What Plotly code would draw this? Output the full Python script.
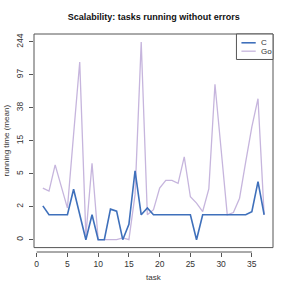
import numpy as np
import plotly.graph_objects as go

tasks = list(range(1, 38))
c_values = [1.56, 1, 1, 1, 1, 3.07, 1, 0, 1, 0, 0, 1.34, 1.21, 0, 0.53, 5.8, 1, 1.42,
            1, 1, 1, 1, 1, 1, 1, 0, 1, 1, 1, 1, 1, 1, 1, 1, 1.18, 4.03, 1]
go_values = [3.2, 2.86, 7.0, 3.5, 1.41, 17.7, 139, 0.12, 7.4, 0, 0, 0, 0, 0.05, 0, 2.5, 244,
             1, 1.3, 3.2, 4.2, 4.2, 3.8, 9.0, 2.3, 1.77, 1.19, 3.1, 74.5, 11.3, 1, 1.13,
             2.17, 7.7, 22, 49.5, 1]
series_names = ["C", "Go"]
x_ticks = [0, 5, 10, 15, 20, 25, 30, 35]
y_tick_labels = ["0", "2", "5", "15", "38", "97", "244"]

colors = {"C": "#3f70bb", "Go": "#c6b5dd"}
widths = {"C": 1.6, "Go": 1.3}

W, H = 291, 291
L, R_, T = 34, 273.3, 33.5
box_bottom = 247.3
axis_bottom = 251.7

c_log = np.log1p(c_values)
go_log = np.log1p(go_values)
ymax = float(max(c_log.max(), go_log.max()))
pad = 0.04 * ymax
span = ymax + 2 * pad
box_h = box_bottom - T
extra = span * (axis_bottom - box_bottom) / box_h
yrange = [-pad - extra, ymax + pad]
xpad = 0.04 * (tasks[-1] - tasks[0])
xrange = [tasks[0] - xpad, tasks[-1] + xpad]
y_tickvals = list(np.linspace(0, ymax, len(y_tick_labels)))

fig = go.Figure()
fig.add_trace(go.Scatter(x=tasks, y=go_log, mode="lines", name="Go",
                         line=dict(color=colors["Go"], width=widths["Go"])))
fig.add_trace(go.Scatter(x=tasks, y=c_log, mode="lines", name="C",
                         line=dict(color=colors["C"], width=widths["C"])))

plot_h = axis_bottom - T
plot_w = R_ - L
def px(xp):
    return (xp - L) / plot_w
def py(yp):
    return (axis_bottom - yp) / plot_h

frame = "#555555"
txt = "#333333"
shapes = [
    dict(type="rect", xref="paper", yref="paper", x0=0, x1=1, y0=py(box_bottom), y1=1,
         line=dict(color=frame, width=1)),
    dict(type="line", xref="x", yref="paper", x0=x_ticks[0], x1=x_ticks[-1], y0=0, y1=0,
         line=dict(color=frame, width=1)),
    dict(type="rect", xref="paper", yref="paper", x0=px(236.7), x1=1, y0=py(59), y1=1,
         line=dict(color=frame, width=1), fillcolor="white"),
]
annotations = [
    dict(text="task", xref="paper", yref="paper", x=0.5, y=py(277.3), showarrow=False,
         xanchor="center", yanchor="middle", font=dict(size=8, color=txt)),
    dict(text="running time (mean)", xref="paper", yref="paper", x=px(6.7), y=py(140.4),
         showarrow=False, textangle=-90, xanchor="center", yanchor="middle",
         font=dict(size=8, color=txt)),
]
for name, yp in zip(series_names, [42.3, 50.7]):
    shapes.append(dict(type="line", xref="paper", yref="paper", x0=px(241.7), x1=px(256),
                       y0=py(yp), y1=py(yp), line=dict(color=colors[name], width=widths[name])))
    annotations.append(dict(text=name, xref="paper", yref="paper", x=px(259.3), y=py(yp),
                            showarrow=False, xanchor="left", yanchor="middle",
                            font=dict(size=8, color=txt)))

fig.update_layout(
    template="none",
    width=W, height=H,
    margin=dict(l=L, r=W - R_, t=T, b=H - axis_bottom, pad=0),
    paper_bgcolor="white", plot_bgcolor="white",
    showlegend=False,
    font=dict(family="Liberation Sans, Arial, sans-serif", size=8, color=txt),
    title=dict(text="<b>Scalability: tasks running without errors</b>",
               x=0.5 * (L + R_) / W, xanchor="center", y=1 - 17 / H, yanchor="middle",
               font=dict(size=9, color="#111111")),
    xaxis=dict(range=xrange, tickvals=x_ticks, ticktext=[str(v) for v in x_ticks],
               showgrid=False, zeroline=False, showline=False, ticks="outside",
               ticklen=4, tickcolor=frame, tickwidth=1,
               tickfont=dict(size=8.5, color=txt)),
    yaxis=dict(range=yrange, tickvals=y_tickvals, ticktext=y_tick_labels,
               showgrid=False, zeroline=False, showline=False, ticks="outside",
               ticklen=4, tickcolor=frame, tickwidth=1, tickangle=-90,
               ticklabelstandoff=3,
               tickfont=dict(size=8.5, color=txt)),
    shapes=shapes, annotations=annotations,
)
fig.write_html("out.html", config={"displayModeBar": False},
               post_script="document.body.style.margin='0';")
